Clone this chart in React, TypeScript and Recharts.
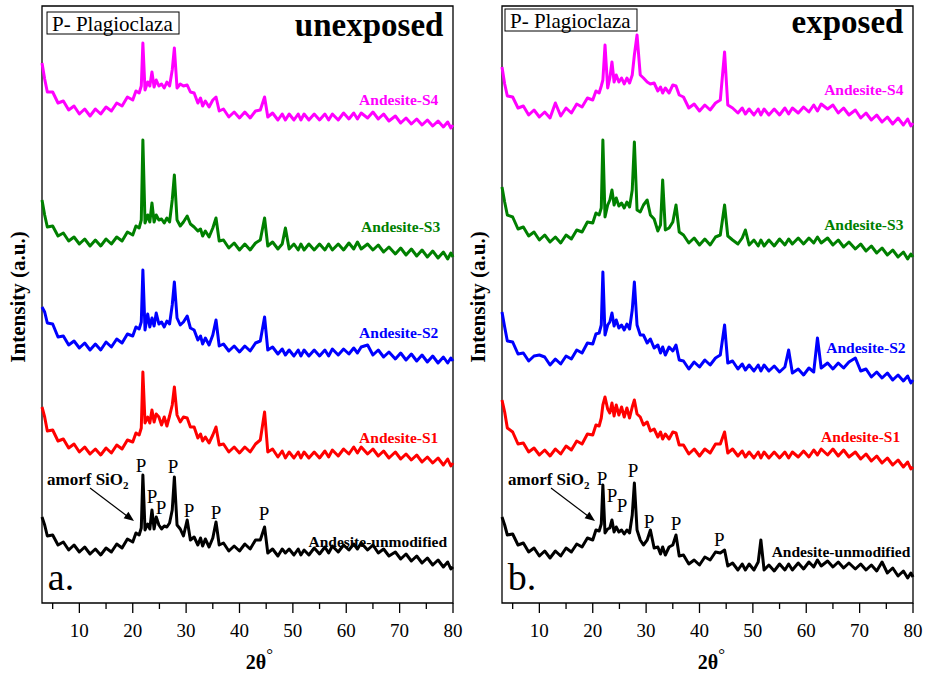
import React from 'react';
import { LineChart, Line, XAxis, YAxis, ReferenceArea, ReferenceDot, Label } from 'recharts';

// 2θ grid shared by every pattern
const twoTheta = [
  3, 3.5, 4, 5, 6, 7, 8, 9, 10, 11,
  12, 13, 14, 15, 16, 17, 18, 19, 20, 20.6,
  21.2, 21.6, 21.9, 22.3, 22.8, 23.2, 23.6, 24.0, 24.4, 24.9,
  25.4, 25.9, 26.4, 26.9, 27.4, 27.8, 28.3, 28.9, 29.5, 30.2,
  30.8, 31.5, 32.2, 32.7, 33.1, 33.6, 34.3, 35.0, 35.6, 36.2,
  37, 38, 39, 40, 41, 42, 43, 43.9, 44.7, 45.3,
  46.2, 47.2, 48, 48.6, 49.3, 50.2, 51, 51.5, 52.1, 53,
  54, 55, 56, 56.7, 57.4, 58.5, 59.5, 60.5, 61.4, 62.1,
  62.8, 64, 65, 66, 67, 68, 69.2, 70.2, 71.2, 72.2,
  73.2, 74.2, 75.2, 76.2, 77.2, 78.2, 79, 79.6, 80,
];

// ---- unexposed (a.) intensities, stacked, a.u. ----
const unexposedUnmodified = [
  86, 78, 67, 68, 58, 61, 53, 58, 51, 56,
  49, 54, 48, 55, 51, 59, 55, 64, 61, 70,
  68, 75, 128, 73, 79, 74, 93, 74, 86, 78,
  74, 77, 76, 80, 93, 126, 78, 74, 67, 83,
  63, 66, 58, 65, 57, 64, 56, 65, 81, 58,
  60, 52, 57, 52, 59, 54, 63, 63, 76, 50,
  54, 47, 54, 50, 54, 48, 54, 48, 53, 48,
  55, 49, 56, 50, 57, 51, 58, 53, 59, 54,
  60, 53, 58, 50, 54, 47, 51, 44, 49, 42,
  47, 40, 45, 38, 43, 36, 41, 34, 36,
];
const unexposedS1 = [
  196, 186, 172, 173, 162, 164, 155, 159, 151, 156,
  149, 154, 148, 155, 150, 158, 154, 163, 161, 170,
  168, 175, 231, 180, 186, 180, 193, 181, 189, 186,
  178, 186, 177, 187, 198, 216, 188, 181, 186, 185,
  176, 176, 165, 169, 162, 166, 160, 168, 176, 158,
  159, 151, 156, 150, 156, 151, 159, 163, 191, 151,
  154, 146, 152, 145, 151, 145, 151, 145, 151, 145,
  151, 145, 152, 146, 153, 147, 154, 149, 156, 150,
  156, 149, 154, 147, 152, 145, 151, 144, 149, 143,
  148, 141, 146, 140, 145, 138, 144, 137, 140,
];
const unexposedS2 = [
  296, 291, 280, 279, 266, 267, 258, 262, 255, 260,
  253, 259, 253, 261, 256, 264, 260, 269, 267, 276,
  274, 281, 333, 273, 289, 276, 285, 277, 290, 279,
  281, 276, 282, 279, 298, 321, 285, 278, 281, 287,
  275, 273, 263, 267, 259, 265, 258, 268, 283, 257,
  259, 252, 257, 251, 257, 252, 260, 262, 286, 253,
  256, 249, 254, 248, 253, 247, 253, 247, 253, 247,
  253, 247, 253, 247, 254, 248, 254, 249, 255, 250,
  256, 258, 248, 253, 246, 251, 244, 250, 243, 249,
  242, 248, 241, 247, 240, 246, 240, 245, 242,
];
const unexposedS3 = [
  403, 388, 376, 377, 367, 370, 362, 366, 359, 364,
  357, 363, 357, 364, 359, 366, 362, 371, 368, 377,
  375, 383, 463, 380, 388, 381, 400, 381, 388, 383,
  384, 380, 385, 381, 403, 428, 383, 377, 381, 387,
  379, 376, 372, 374, 367, 372, 366, 375, 385, 362,
  363, 355, 360, 353, 359, 353, 360, 363, 385, 357,
  361, 354, 359, 375, 354, 359, 353, 359, 353, 359,
  353, 359, 353, 359, 353, 359, 353, 360, 354, 361,
  354, 359, 353, 358, 351, 356, 349, 355, 348, 354,
  347, 353, 346, 352, 345, 351, 344, 350, 346,
];
const unexposedS4 = [
  540, 524, 511, 511, 500, 502, 493, 497, 489, 494,
  487, 494, 489, 496, 492, 500, 497, 506, 503, 512,
  510, 517, 560, 513, 521, 517, 531, 516, 523, 517,
  519, 515, 521, 517, 533, 555, 515, 519, 517, 518,
  511, 510, 500, 505, 497, 502, 496, 503, 506, 492,
  494, 486, 491, 485, 491, 485, 492, 493, 506, 486,
  490, 483, 489, 483, 489, 483, 489, 483, 489, 483,
  489, 483, 489, 483, 489, 483, 490, 484, 490, 484,
  490, 485, 491, 484, 489, 482, 487, 480, 485, 479,
  484, 478, 483, 477, 482, 476, 481, 475, 478,
];

// ---- exposed (b.) intensities ----
const exposedUnmodified = [
  86, 78, 68, 69, 58, 60, 51, 55, 47, 52,
  45, 52, 47, 55, 51, 59, 56, 65, 63, 73,
  72, 79, 118, 70, 74, 75, 83, 71, 76, 71,
  73, 69, 73, 70, 88, 120, 73, 63, 58, 63,
  73, 55, 56, 49, 56, 48, 56, 58, 68, 47,
  48, 39, 43, 38, 46, 43, 51, 50, 53, 37,
  40, 33, 39, 33, 39, 33, 41, 63, 33, 38,
  32, 39, 33, 39, 33, 40, 34, 41, 36, 43,
  37, 42, 36, 41, 35, 40, 34, 39, 33, 38,
  32, 41, 30, 35, 27, 32, 25, 30, 26,
];
const exposedS1 = [
  203, 191, 175, 171, 159, 160, 151, 155, 148, 153,
  147, 154, 149, 157, 153, 162, 159, 169, 168, 178,
  177, 185, 198, 206, 194, 190, 200, 187, 198, 188,
  196, 186, 195, 185, 196, 203, 189, 186, 178, 181,
  172, 174, 166, 171, 164, 169, 164, 171, 170, 158,
  158, 149, 154, 147, 154, 150, 159, 159, 171, 150,
  154, 147, 152, 146, 151, 145, 151, 145, 151, 145,
  151, 145, 151, 145, 151, 146, 152, 146, 153, 148,
  154, 148, 154, 147, 153, 146, 151, 144, 149, 142,
  147, 140, 145, 138, 143, 136, 141, 134, 136,
];
const exposedS2 = [
  291, 276, 262, 261, 249, 250, 242, 247, 248, 246,
  238, 244, 239, 247, 244, 253, 250, 260, 259, 269,
  270, 278, 331, 268, 278, 281, 290, 277, 283, 275,
  278, 273, 279, 274, 293, 321, 278, 268, 268, 260,
  264, 255, 258, 250, 256, 248, 256, 252, 258, 243,
  242, 234, 241, 236, 243, 238, 245, 248, 278, 240,
  242, 234, 239, 233, 238, 232, 238, 232, 238, 232,
  237, 231, 236, 253, 230, 234, 228, 235, 231, 265,
  235, 240, 234, 240, 235, 241, 245, 232, 234, 226,
  231, 225, 230, 223, 228, 222, 227, 220, 223,
];
const exposedS3 = [
  416, 401, 388, 386, 374, 376, 367, 371, 363, 368,
  361, 366, 360, 368, 364, 373, 371, 381, 380, 390,
  388, 395, 463, 386, 398, 403, 413, 398, 405, 397,
  400, 395, 401, 396, 413, 461, 393, 391, 398, 403,
  388, 384, 372, 378, 423, 373, 375, 381, 398, 371,
  368, 360, 365, 358, 364, 358, 366, 368, 398, 367,
  363, 359, 365, 373, 358, 363, 357, 363, 357, 363,
  357, 364, 358, 364, 359, 365, 359, 365, 360, 366,
  360, 365, 358, 363, 356, 361, 354, 359, 352, 357,
  350, 355, 348, 353, 346, 351, 344, 349, 346,
];
const exposedS4 = [
  536, 519, 507, 506, 495, 497, 488, 493, 486, 491,
  485, 500, 487, 495, 490, 499, 496, 505, 503, 512,
  510, 517, 523, 558, 515, 525, 541, 521, 528, 521,
  525, 519, 525, 520, 528, 548, 568, 528, 525, 521,
  519, 520, 512, 516, 510, 515, 510, 518, 517, 508,
  506, 495, 499, 492, 498, 493, 500, 503, 551, 498,
  495, 490, 495, 489, 494, 488, 494, 488, 494, 488,
  494, 488, 495, 489, 495, 490, 496, 491, 498, 492,
  499, 494, 498, 490, 495, 488, 493, 485, 490, 483,
  488, 481, 486, 479, 485, 478, 484, 477, 480,
];

const seriesNames = ['Andesite-unmodified', 'Andesite-S1', 'Andesite-S2', 'Andesite-S3', 'Andesite-S4'];
const seriesColors = ['#000000', '#FF0000', '#0000FF', '#008000', '#FF00FF'];
const xTicks = [5, 10, 15, 20, 25, 30, 35, 40, 45, 50, 55, 60, 65, 70, 75, 80];

// annotation anchors (2θ, intensity)
const unexposedLabelTheta = [78.9, 77.25, 77.25, 77.6, 77.25];
const unexposedLabelHeight = [56, 160, 265, 371, 498];
const exposedLabelTheta = [79.5, 77.6, 78.6, 78.2, 78.2];
const exposedLabelHeight = [46, 161, 250, 373, 508];
const unexposedPTheta = [21.56, 23.6, 25.3, 27.56, 30.56, 35.6, 44.6];
const unexposedPHeight = [131, 100, 89, 130, 86, 84, 83];
const exposedPTheta = [21.75, 23.6, 25.5, 27.56, 30.56, 35.6, 43.7];
const exposedPHeight = [118, 101, 91, 126, 75, 73, 57];

const FONT = "'Liberation Serif', 'Times New Roman', serif";
const PLOT_H = 597;

function XTick(props: any) {
  const { x, y, payload } = props;
  const v = payload.value;
  const major = v % 10 === 0;
  return (
    <g>
      <line x1={x} x2={x} y1={y} y2={y + (major ? 10 : 6)} stroke="#000" strokeWidth={1.3} />
      {major && (
        <text x={x} y={y + 34} textAnchor="middle" fontFamily={FONT} fontSize={19} fill="#000">
          {v}
        </text>
      )}
    </g>
  );
}

const textShape = (text: string, o: { anchor?: string; size: number; bold?: boolean; color?: string }) =>
  (p: any) => (
    <text x={p.cx} y={p.cy} textAnchor={o.anchor || 'start'} fontFamily={FONT} fontSize={o.size}
      fontWeight={o.bold ? 'bold' : 'normal'} fill={o.color || '#000'}>
      {text}
    </text>
  );

const amorfShape = (p: any) => {
  const { cx, cy } = p;
  return (
    <g>
      <text x={cx} y={cy} fontFamily={FONT} fontSize={17} fontWeight="bold" fill="#000">
        amorf SiO<tspan dy={4} fontSize={11}>2</tspan>
      </text>
      <line x1={cx + 43} y1={cy + 3} x2={cx + 80} y2={cy + 31} stroke="#000" strokeWidth={1.2} />
      <polygon points={`${cx + 87},${cy + 36} ${cx + 76.6},${cy + 33.2} ${cx + 81.4},${cy + 26.8}`} fill="#000" />
    </g>
  );
};

const boxShape = (p: any) => (
  <g>
    <rect x={p.cx} y={p.cy} width={132} height={22} fill="#fff" stroke="#000" strokeWidth={1} />
    <text x={p.cx + 5} y={p.cy + 18.5} fontFamily={FONT} fontSize={21} fill="#000">P- Plagioclaza</text>
  </g>
);

type PanelProps = {
  width: number;
  rightMargin: number;
  values: number[][];
  labelTheta: number[];
  labelHeight: number[];
  pTheta: number[];
  pHeight: number[];
  title: string;
  titleY: number;
  letter: string;
  boxY: number;
  boxX: number;
  amorfX: number;
  xLabelShift: number;
};

function Panel(props: PanelProps) {
  const rows = twoTheta.map((t, i) => {
    const r: any = { t };
    props.values.forEach((arr, k) => { r['s' + k] = arr[i]; });
    return r;
  });
  return (
    <LineChart width={props.width} height={678} data={rows}
      margin={{ top: 6, right: props.rightMargin, bottom: 0, left: 0 }}>
      <XAxis
        type="number" dataKey="t" domain={[3, 80]} ticks={xTicks} interval={0}
        tickSize={0} tickMargin={0} tickLine={false} axisLine={false} height={75}
        tick={(tp: any) => <XTick {...tp} />}
        label={
          <Label
            content={(lp: any) => {
              const vb = lp.viewBox || { x: 42, y: 603, width: 411 };
              return (
                <text x={vb.x + vb.width / 2 + props.xLabelShift} y={669} textAnchor="middle"
                  fontFamily={FONT} fontSize={20} fontWeight="bold" fill="#000">
                  2θ<tspan dy={-9} fontSize={17} fontWeight="normal">°</tspan>
                </text>
              );
            }}
          />
        }
      />
      <YAxis
        type="number" domain={[0, PLOT_H]} width={42} tick={false} axisLine={false} tickLine={false}
        label={
          <Label
            content={() => (
              <text transform="translate(25,297) rotate(-90)" textAnchor="middle" fontFamily={FONT}
                fontSize={21} fontWeight="bold" fill="#000">
                Intensity (a.u.)
              </text>
            )}
          />
        }
      />
      <ReferenceArea x1={3} x2={80} y1={0} y2={PLOT_H} fill="none" fillOpacity={0} stroke="#000" strokeWidth={1.3} />
      {props.values.map((_, k) => (
        <Line key={k} type="linear" dataKey={'s' + k} stroke={seriesColors[k]} strokeWidth={3}
          strokeLinejoin="round" dot={false} activeDot={false} isAnimationActive={false} />
      ))}
      {seriesNames.map((n, k) => (
        <ReferenceDot key={'lab' + k} x={props.labelTheta[k]} y={props.labelHeight[k]} r={0}
          shape={textShape(n, { anchor: 'end', size: 15.5, bold: true, color: seriesColors[k] })} />
      ))}
      {props.pTheta.map((t, k) => (
        <ReferenceDot key={'p' + k} x={t} y={props.pHeight[k]} r={0}
          shape={textShape('P', { anchor: 'middle', size: 19 })} />
      ))}
      <ReferenceDot x={props.amorfX} y={118} r={0} shape={amorfShape} />
      <ReferenceDot x={props.boxX} y={props.boxY} r={0} shape={boxShape} />
      <ReferenceDot x={78.2} y={props.titleY} r={0}
        shape={textShape(props.title, { anchor: 'end', size: 33, bold: true })} />
      <ReferenceDot x={4.1} y={13} r={0} shape={textShape(props.letter, { size: 38 })} />
    </LineChart>
  );
}

export default function App() {
  return (
    <div style={{ position: 'absolute', left: 0, top: 0, width: 927, height: 678, background: '#fff' }}>
      <div style={{ position: 'absolute', left: 0, top: 0 }}>
        <Panel
          width={470} rightMargin={17}
          values={[unexposedUnmodified, unexposedS1, unexposedS2, unexposedS3, unexposedS4]}
          labelTheta={unexposedLabelTheta} labelHeight={unexposedLabelHeight}
          pTheta={unexposedPTheta} pHeight={unexposedPHeight}
          title="unexposed" titleY={567} letter="a." boxX={3.94} boxY={591} amorfX={3.94} xLabelShift={12}
        />
      </div>
      <div style={{ position: 'absolute', left: 460, top: 0 }}>
        <Panel
          width={467} rightMargin={14}
          values={[exposedUnmodified, exposedS1, exposedS2, exposedS3, exposedS4]}
          labelTheta={exposedLabelTheta} labelHeight={exposedLabelHeight}
          pTheta={exposedPTheta} pHeight={exposedPHeight}
          title="exposed" titleY={570} letter="b." boxX={3.56} boxY={594} amorfX={4.12} xLabelShift={4}
        />
      </div>
    </div>
  );
}
